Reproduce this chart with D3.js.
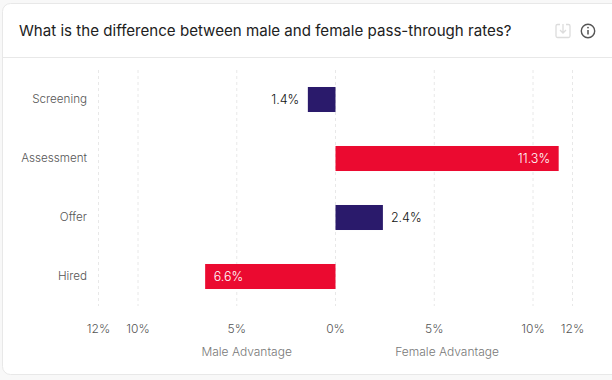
<!DOCTYPE html>
<html><head><meta charset="utf-8">
<script src="https://cdn.jsdelivr.net/npm/d3@7/dist/d3.min.js"></script>
<style>html,body{margin:0;padding:0;background:#fff;overflow:hidden}text{font-family:Inter,sans-serif}</style>
</head><body><div id="c"></div>
<script>
const titleText = "What is the difference between male and female pass-through rates?";
const categories = ["Screening","Assessment","Offer","Hired"];
const values = [-1.4, 11.3, 2.4, -6.6];
const labels = ["1.4%","11.3%","2.4%","6.6%"];
const barKinds = ["small","large","small","large"];
const ticks = [-12,-10,-5,0,5,10,12];
const sideLabels = ["Male Advantage","Female Advantage"];
const sideValues = [-4.5, 5.65];
const kindColors = {small:"#2a1a6b", large:"#eb0a30"};

const svg = d3.select("#c").append("svg").attr("width",612).attr("height",380).style("display","block");
svg.append("rect").attr("width",612).attr("height",380).attr("fill","#f8f8f8");
svg.append("rect").attr("x",2.5).attr("y",3.5).attr("width",621).attr("height",371).attr("rx",8)
  .attr("fill","#fff").attr("stroke","#e8e8e8");
svg.append("line").attr("x1",3).attr("x2",612).attr("y1",57.5).attr("y2",57.5).attr("stroke","#e8e8e8");
svg.append("text").attr("x",19).attr("y",36).attr("font-size",15.1).attr("fill","#212121").attr("font-weight",400).text(titleText);

const x = d3.scaleLinear().domain([-12,12]).range([98.5,572.5]);
const y = d3.scaleBand().domain(categories).range([70,306]).paddingInner(0.576).paddingOuter(0.288);

svg.append("g").selectAll("line").data(ticks).join("line")
  .attr("x1",d=>x(d)).attr("x2",d=>x(d)).attr("y1",70).attr("y2",306)
  .attr("stroke","#e8e8e8").attr("stroke-dasharray","3,3");

svg.append("g").selectAll("text").data(ticks).join("text")
  .attr("x",d=>x(d)).attr("y",333).attr("text-anchor","middle").attr("font-size",12).attr("font-weight",300).attr("fill","#555")
  .text(d=>Math.abs(d)+"%");

svg.append("g").selectAll("text").data(sideLabels).join("text")
  .attr("x",(d,i)=>x(sideValues[i])).attr("y",356).attr("text-anchor","middle").attr("font-size",12).attr("font-weight",300).attr("fill","#777").text(d=>d);

svg.append("g").selectAll("text").data(categories).join("text")
  .attr("x",87).attr("y",d=>y(d)+y.bandwidth()/2+3.8).attr("text-anchor","end").attr("font-size",11.65).attr("font-weight",300).attr("fill","#555").text(d=>d);

svg.append("g").selectAll("rect").data(values).join("rect")
  .attr("x",d=>x(Math.min(0,d))).attr("width",d=>Math.abs(x(d)-x(0)))
  .attr("y",(d,i)=>y(categories[i])).attr("height",y.bandwidth())
  .attr("fill",(d,i)=>kindColors[barKinds[i]]);

svg.append("g").selectAll("text").data(values).join("text")
  .attr("x",(d,i)=>{
    if(barKinds[i]==="large") return d>0 ? x(d)-8.5 : x(d)+8.5;
    return d>0 ? x(d)+8 : x(d)-8.5;
  })
  .attr("text-anchor",(d,i)=>{
    if(barKinds[i]==="large") return d>0?"end":"start";
    return d>0?"start":"end";
  })
  .attr("y",(d,i)=>y(categories[i])+y.bandwidth()/2+4)
  .attr("font-size",12.5).attr("font-weight",300)
  .attr("fill",(d,i)=>barKinds[i]==="large"?"#fff":"#111")
  .text((d,i)=>labels[i]);

// header icons
const dl = svg.append("g").attr("fill","none").attr("stroke","#dcdcdc").attr("stroke-width",1.3);
dl.append("path").attr("d","M560 24.5 h-2.5 a1.5 1.5 0 0 0 -1.5 1.5 v10 a1.5 1.5 0 0 0 1.5 1.5 h11 a1.5 1.5 0 0 0 1.5 -1.5 v-10 a1.5 1.5 0 0 0 -1.5 -1.5 h-2.5");
dl.append("path").attr("d","M563 24 v9 M560 30 l3 3 l3 -3");
const info = svg.append("g");
info.append("circle").attr("cx",588).attr("cy",31).attr("r",6.7).attr("fill","none").attr("stroke","#555").attr("stroke-width",1.4);
info.append("line").attr("x1",588).attr("x2",588).attr("y1",30).attr("y2",34.5).attr("stroke","#555").attr("stroke-width",1.5);
info.append("circle").attr("cx",588).attr("cy",27.6).attr("r",0.9).attr("fill","#555");
</script></body></html>
